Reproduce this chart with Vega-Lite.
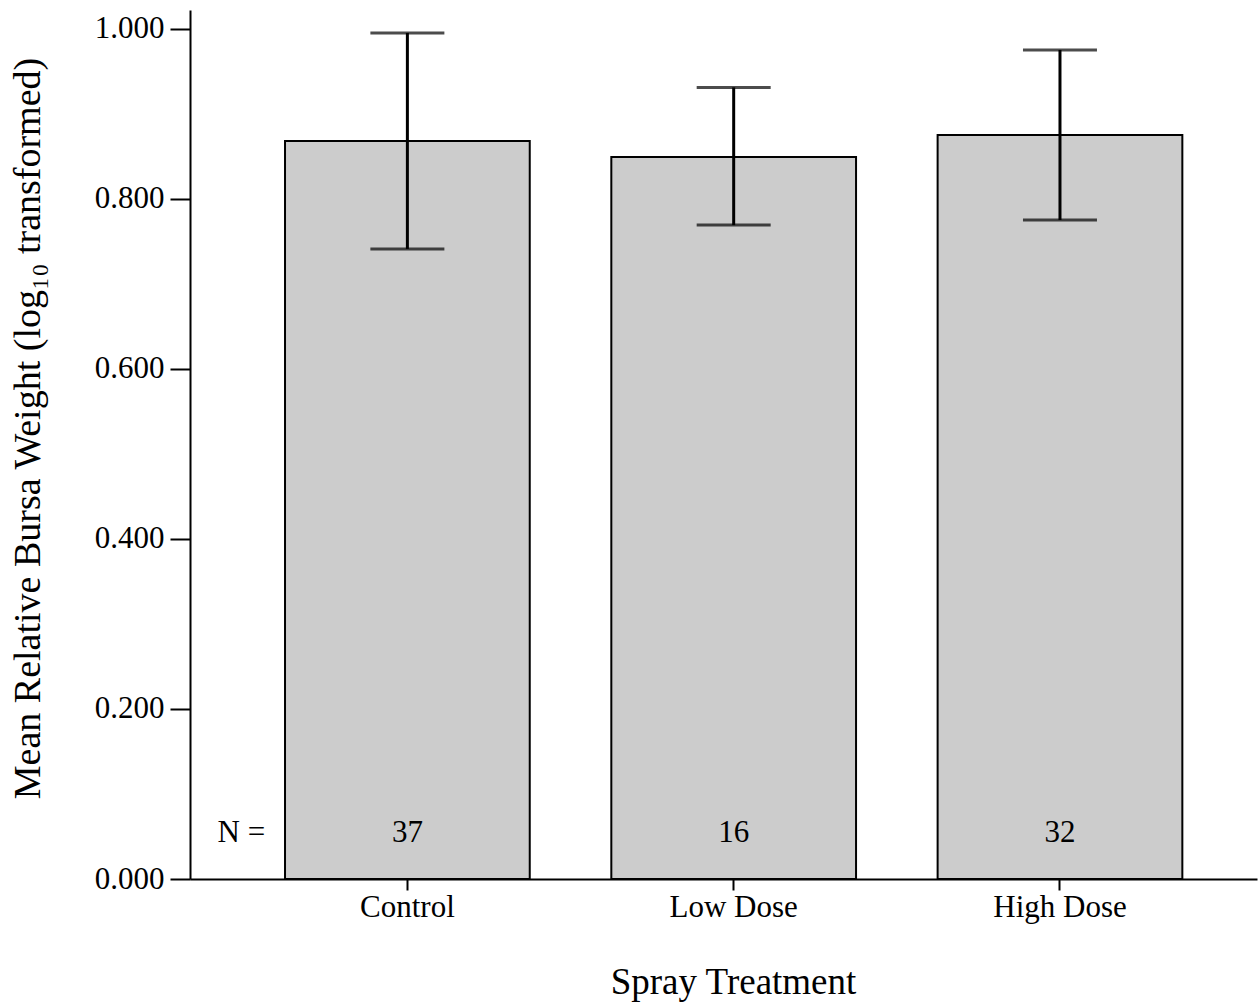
{
  "$schema": "https://vega.github.io/schema/vega-lite/v6.json",
  "autosize": "none",
  "width": 1067,
  "height": 869,
  "padding": {"left": 190, "top": 10, "right": 2, "bottom": 128},
  "background": "white",
  "config": {
    "view": {"stroke": null},
    "font": "Liberation Serif",
    "axis": {
      "labelFont": "Liberation Serif",
      "titleFont": "Liberation Serif",
      "labelColor": "black",
      "titleColor": "black",
      "domainColor": "black",
      "tickColor": "black",
      "domainWidth": 2,
      "tickWidth": 2,
      "labelFontSize": 31,
      "titleFontSize": 37,
      "titleFontWeight": "normal",
      "grid": false
    }
  },
  "data": {
    "values": [
      {"Treatment": "Control", "mean": 0.868, "lower": 0.741, "upper": 0.995, "N": "37"},
      {"Treatment": "Low Dose", "mean": 0.849, "lower": 0.769, "upper": 0.931, "N": "16"},
      {"Treatment": "High Dose", "mean": 0.875, "lower": 0.775, "upper": 0.975, "N": "32"}
    ]
  },
  "encoding": {
    "x": {
      "field": "Treatment",
      "type": "nominal",
      "sort": ["Control", "Low Dose", "High Dose"],
      "scale": {"paddingInner": 0.25, "paddingOuter": 0.26, "align": 0.56},
      "axis": {
        "title": "Spray Treatment",
        "labelAngle": 0,
        "tickSize": 11,
        "labelPadding": 2,
        "titlePadding": 42,
        "titleX": 543,
        "titleAlign": "center"
      }
    }
  },
  "layer": [
    {
      "mark": {"type": "bar", "fill": "#cccccc", "stroke": "black", "strokeWidth": 2},
      "encoding": {
        "y": {
          "field": "mean",
          "type": "quantitative",
          "scale": {"domain": [0, 1.022], "nice": false, "zero": true},
          "axis": {
            "title": "Mean Relative Bursa Weight (log₁₀ transformed)",
            "titleFontSize": 38,
            "titleY": 418,
            "titleAlign": "center",
            "values": [0, 0.2, 0.4, 0.6, 0.8, 1.0],
            "format": ".3f",
            "tickSize": 20,
            "labelPadding": 6,
            "titlePadding": 47
          }
        }
      }
    },
    {
      "mark": {"type": "rule", "color": "black", "strokeWidth": 3},
      "encoding": {
        "y": {"field": "lower", "type": "quantitative"},
        "y2": {"field": "upper"}
      }
    },
    {
      "mark": {"type": "tick", "color": "black", "orient": "horizontal", "size": 74, "thickness": 3},
      "encoding": {"y": {"field": "upper", "type": "quantitative"}}
    },
    {
      "mark": {"type": "tick", "color": "black", "orient": "horizontal", "size": 74, "thickness": 3},
      "encoding": {"y": {"field": "lower", "type": "quantitative"}}
    },
    {
      "mark": {"type": "text", "fontSize": 31, "font": "Liberation Serif", "color": "black", "baseline": "middle"},
      "encoding": {
        "y": {"datum": 0.054},
        "text": {"field": "N"}
      }
    },
    {
      "data": {"values": [{"label": "N ="}]},
      "mark": {"type": "text", "fontSize": 31, "font": "Liberation Serif", "color": "black", "baseline": "middle", "dx": -166},
      "encoding": {
        "x": {"datum": "Control"},
        "y": {"datum": 0.054},
        "text": {"field": "label"}
      }
    }
  ]
}
